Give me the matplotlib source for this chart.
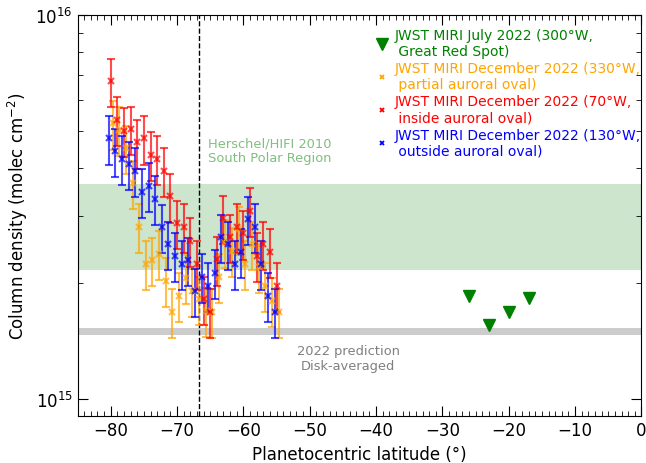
import matplotlib
matplotlib.use('Agg')
import matplotlib.pyplot as plt
from matplotlib.lines import Line2D
import numpy as np

# JWST MIRI December 2022 retrievals, one point per degree of latitude
lat_130w = np.arange(26) - 80.3
col_130w = [4.77, 4.42, 4.22, 4.09, 3.93, 3.47, 3.59, 3.32, 2.80, 2.53, 2.36, 2.25, 2.30,
            1.91, 2.08, 1.97, 2.13, 2.64, 2.53, 2.25, 2.42, 2.94, 2.81, 2.25, 1.86, 1.69]

lat_70w = np.arange(26) - 80.0
col_70w = [6.72, 5.33, 5.00, 5.04, 4.66, 4.77, 4.32, 4.22, 3.93, 3.37, 2.87, 2.81, 2.58,
           2.25, 1.82, 1.69, 2.31, 2.96, 2.64, 2.81, 2.70, 3.09, 2.36, 2.53, 2.42, 1.97]

lat_330w = np.arange(26) - 79.7
col_330w = [5.22, 5.03, 4.50, 3.65, 2.81, 2.25, 2.30, 2.39, 2.03, 1.69, 1.86, 2.07, 1.91,
            1.82, 1.70, 1.69, 2.08, 2.56, 2.43, 2.77, 2.25, 2.53, 2.21, 1.97, 1.80, 1.69]

rel_err = 0.145

# JWST MIRI July 2022, Great Red Spot
lat_grs = [-26, -23, -20, -17]
col_grs = [1.85, 1.56, 1.69, 1.83]

# Herschel/HIFI 2010 range and 2022 disk-averaged prediction (1e15 molec cm-2)
herschel_lo, herschel_hi = 2.17, 3.63
pred_lo, pred_hi = 1.47, 1.53
oval_lat = -66.7

scale = 1e15

fig = plt.figure(figsize=(6.46, 4.64), dpi=100)
ax = fig.add_axes([0.12, 0.101, 0.873, 0.8645])

ax.axhspan(herschel_lo * scale, herschel_hi * scale, color='green', alpha=0.2, lw=0)
ax.axhspan(pred_lo * scale, pred_hi * scale, color='gray', alpha=0.4, lw=0)
ax.axvline(oval_lat, color='k', ls='--', lw=1)

series = [
    (lat_330w, col_330w, 'orange'),
    (lat_70w, col_70w, 'red'),
    (lat_130w, col_130w, 'blue'),
]
for lat, col, c in series:
    y = np.array(col) * scale
    ax.errorbar(lat, y, yerr=rel_err * y, fmt='x', color=c, ms=4, mew=1.5,
                capsize=3, elinewidth=1.5, capthick=1.5, alpha=0.7)

ax.plot(lat_grs, np.array(col_grs) * scale, 'v', color='green', ms=8)

ax.text(-65.3, 4.45e15, 'Herschel/HIFI 2010\nSouth Polar Region', color='green', alpha=0.5,
        fontsize=9.4, ha='left', va='center')
ax.text(-44.2, 1.28e15, '2022 prediction\nDisk-averaged', color='gray',
        fontsize=9.4, ha='center', va='center')

ax.set_yscale('log')
ax.set_xlim(-85, 0)
ax.set_ylim(9.03e14, 1e16)
ax.set_xticks(np.arange(-80, 1, 10))
ax.set_yticks([1e15, 1e16])
ax.set_xticks(np.arange(-85, 1, 1), minor=True)
ax.tick_params(which='both', direction='in', top=True, right=True, labelsize=12)
ax.tick_params(which='major', length=7)
ax.tick_params(which='minor', length=3.5)

ax.set_xlabel('Planetocentric latitude (°)', fontsize=12)
ax.set_ylabel('Column density (molec cm$^{-2}$)', fontsize=12)

handles = [
    Line2D([], [], marker='v', color='green', ls='none', ms=8),
    Line2D([], [], marker='x', color='orange', ls='none', ms=3.5, mew=1.3),
    Line2D([], [], marker='x', color='red', ls='none', ms=3.5, mew=1.3),
    Line2D([], [], marker='x', color='blue', ls='none', ms=3.5, mew=1.3),
]
labels = [
    'JWST MIRI July 2022 (300°W,\n Great Red Spot)',
    'JWST MIRI December 2022 (330°W,\n partial auroral oval)',
    'JWST MIRI December 2022 (70°W,\n inside auroral oval)',
    'JWST MIRI December 2022 (130°W,\n outside auroral oval)',
]
leg = ax.legend(handles, labels, loc='upper right', bbox_to_anchor=(1.003, 0.975),
                frameon=False, fontsize=10, borderaxespad=0, borderpad=0.2,
                handletextpad=0.15, handlelength=1.5, labelspacing=0.22)
for txt, c in zip(leg.get_texts(), ['green', 'orange', 'red', 'blue']):
    txt.set_color(c)

fig.savefig('out.png', dpi=100)
